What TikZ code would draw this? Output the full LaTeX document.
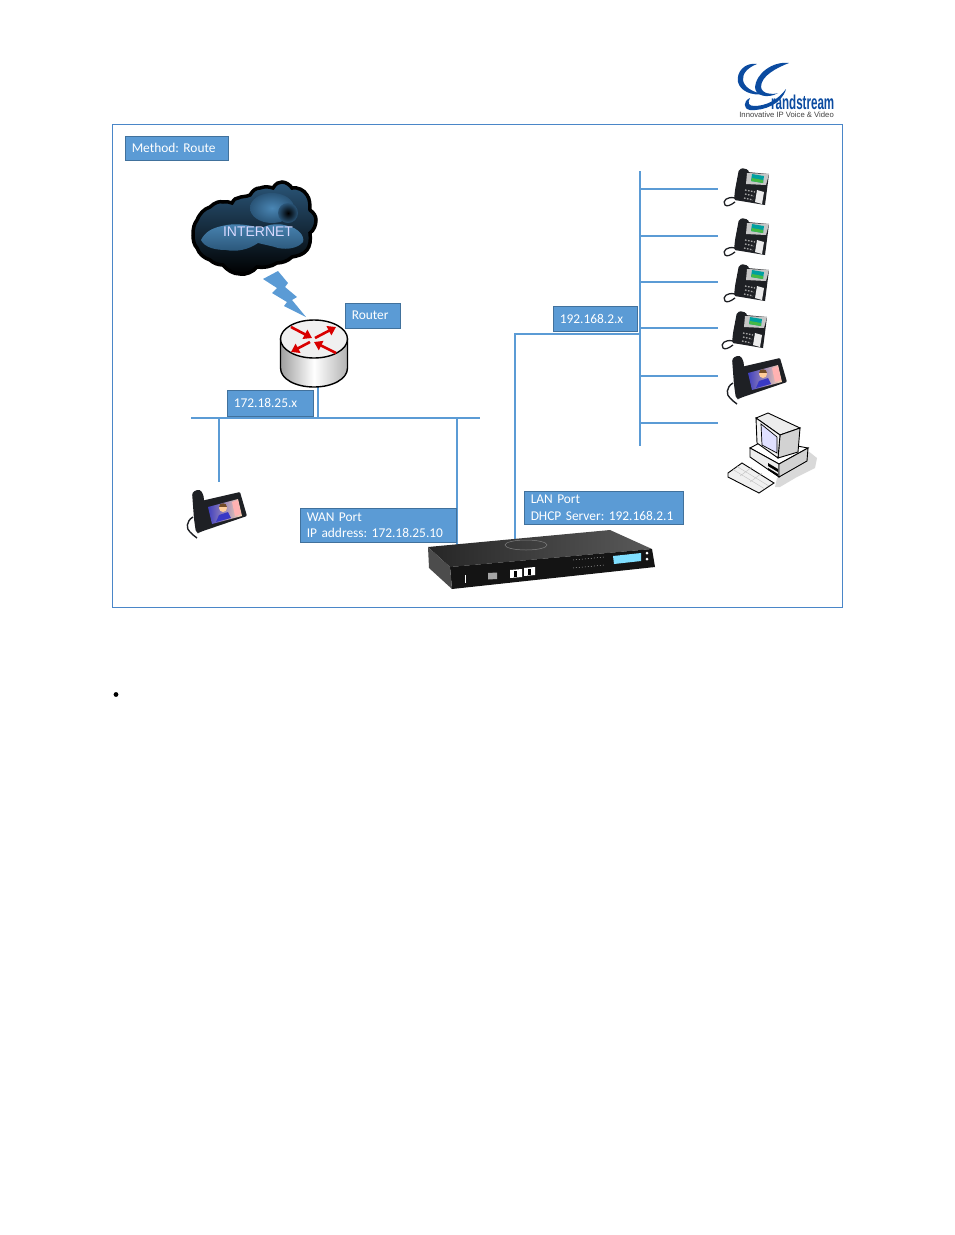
\documentclass[tikz,border=0pt]{standalone}
\usepackage{fontspec}
\setmainfont{Carlito}
\newfontfamily\arialfont{Liberation Sans}
\usetikzlibrary{arrows.meta}
\definecolor{framec}{HTML}{4A86C8}
\definecolor{boxfill}{HTML}{5B9BD5}
\definecolor{boxedge}{HTML}{41719C}
\definecolor{logoblue}{HTML}{0B4BA0}
\definecolor{phoneblack}{HTML}{1E2024}
\definecolor{cloudtop}{HTML}{2A5578}
\definecolor{cloudlight}{HTML}{4A86B4}
\definecolor{clouddark}{HTML}{12283C}
\tikzset{
  netline/.style = {draw = boxfill, line width = 2.8},
  labelbox/.style n args = {2}{draw = boxedge, fill = boxfill, text = white, font = \fontsize{13.4}{16.5}\selectfont, align = left, inner xsep = 6.5, inner ysep = 0, text width = #1 - 13, minimum height = #2},
  redarrow/.style = {draw = red!85!black, line width = 2.6, -{Triangle[length = 8, width = 10]}},
  pics/deskphone/.style = {code = {
    \draw[phoneblack, line width = 1.3] (13,31) .. controls (5,29) and (0,34) .. (3,38) .. controls (5,40) and (9,38) .. (13,35);
    \fill[phoneblack] (25,5)--(47,7)--(43,38)--(13,33)--cycle;
    \fill[phoneblack, rounded corners = 2] (17,2)--(23,1)--(28,5)--(23,17)--(21,33)--(12,33)--(13,23)--cycle;
    \fill[gray!45] (25,6)--(47,7)--(44,18)--(24,17)--cycle;
    \fill[teal!75!cyan] (30,7)--(42,9)--(41,16)--(29,14)--cycle;
    \fill[green!45!gray] (30,11)--(41,13)--(41,16)--(29,14)--cycle;
    \fill[white!85!gray] (35,23)--(42,25)--(40,37)--(33,35)--cycle;
    \draw[gray!70, line width = 1.3, dash pattern = on 1.6 off 1.4] (23,23)--(33,25);
    \draw[gray!70, line width = 1.3, dash pattern = on 1.6 off 1.4] (23,27)--(32,29);
    \draw[gray!70, line width = 1.3, dash pattern = on 1.6 off 1.4] (22,31)--(31,33);
  }},
  pics/videophone/.style = {code = {
    \draw[phoneblack, line width = 1.4] (8,28) .. controls (1,32) and (1,40) .. (5,43) .. controls (7,45) and (9,47) .. (12,49);
    \fill[phoneblack, rounded corners = 1] (16,12)--(55,3)--(62,27)--(18,42)--(13,44)--cycle;
    \fill[phoneblack, rounded corners = 3] (7,3)--(15,0)--(19,7)--(18,32)--(15,44)--(11,44)--(9,30)--cycle;
    \shade[left color = blue!50!gray, right color = white!70!orange] (23,18)--(53,10)--(57,27)--(27,35)--cycle;
    \fill[white!70!red] (47,13)--(53,11)--(56,25)--(50,27)--cycle;
    \fill[blue!55!gray] (31,33)--(34,26)--(43,23)--(46,29)--cycle;
    \fill[orange!40!white] (38,19) circle (4);
    \fill[brown!60!black] (34,18) .. controls (34,13) and (42,13) .. (42,18) -- cycle;
  }}
}
\begin{document}
\frenchspacing
\begin{tikzpicture}[x = 1pt, y = -1pt]
  \useasboundingbox (0,0) rectangle (954,1235);
  \draw[framec, line width = 1] (112.5,124.5) rectangle (842.5,607.5);

  \fill[logoblue] (757,64) .. controls (745,62) and (736,72) .. (738,82) .. controls (740,91) and (752,96) .. (763,94) .. controls (752,92) and (744,87) .. (743,80) .. controls (742,73) and (749,67) .. (757,64) -- cycle;
  \fill[logoblue] (789,63) .. controls (772,61) and (756,74) .. (755,87) .. controls (755,96) and (768,99) .. (778,93) .. controls (772,95) and (762,94) .. (761,87) .. controls (761,76) and (776,68) .. (789,63) -- cycle;
  \fill[logoblue] (750,98) .. controls (743,101) and (743,109) .. (750,110) .. controls (764,111) and (782,104) .. (786,89) .. controls (778,100) and (766,106) .. (754,106) .. controls (749,106) and (747,103) .. (750,98) -- cycle;
  \node[anchor = west, transform shape, xscale = 0.58, text = logoblue, inner sep = 0, font = \arialfont\bfseries\fontsize{20}{20}\selectfont] (logoname) at (771,102) {randstream};
  \node[anchor = east, text = black!75, inner sep = 0, font = \arialfont\fontsize{7.7}{8}\selectfont] (logotag) at (834,114.5) {Innovative IP Voice \& Video};

  \coordinate (wanleft) at (191,418);
  \coordinate (wanright) at (480,418);
  \coordinate (routerfoot) at (318,386);
  \coordinate (wanphone) at (219,482);
  \coordinate (wanport) at (457,550);
  \coordinate (lantop) at (640,171);
  \coordinate (lanbottom) at (640,446);
  \coordinate (lanjoin) at (640,334);
  \coordinate (lanport) at (515,541);
  \coordinate (tapone) at (718,189);
  \coordinate (taptwo) at (718,236);
  \coordinate (tapthree) at (718,282);
  \coordinate (tapfour) at (718,328);
  \coordinate (tapfive) at (718,376);
  \coordinate (tapsix) at (718,423);

  \draw[netline] (wanleft) -- (wanright);
  \draw[netline] (routerfoot) -- (routerfoot |- wanleft);
  \draw[netline] (wanphone |- wanleft) -- (wanphone);
  \draw[netline] (wanport |- wanleft) -- (wanport);
  \draw[netline] (lantop) -- (lanbottom);
  \draw[netline] (lanjoin) -| (lanport);
  \draw[netline] (tapone -| lantop) -- (tapone);
  \draw[netline] (taptwo -| lantop) -- (taptwo);
  \draw[netline] (tapthree -| lantop) -- (tapthree);
  \draw[netline] (tapfour -| lantop) -- (tapfour);
  \draw[netline] (tapfive -| lantop) -- (tapfive);
  \draw[netline] (tapsix -| lantop) -- (tapsix);

  \path[draw = black, line width = 3.5, top color = cloudtop, bottom color = black] (193,235) .. controls (193,228) and (194,224) .. (197,220) .. controls (200,213) and (204,209) .. (210,207) .. controls (215,202) and (220,201) .. (223,202) .. controls (226,201) and (229,202) .. (232,203) .. controls (234,199) and (236,198) .. (238,198) .. controls (242,196) and (246,197) .. (250,195) .. controls (253,190) and (256,188) .. (260,188) .. controls (265,186) and (270,187) .. (273,188) .. controls (276,183) and (279,182) .. (282,182) .. controls (286,182) and (290,185) .. (292,188) .. controls (298,187) and (304,190) .. (307,195) .. controls (310,199) and (310,205) .. (310,210) .. controls (314,213) and (316,216) .. (316,220) .. controls (316,225) and (314,230) .. (310,233) .. controls (311,240) and (310,246) .. (307,250) .. controls (303,255) and (297,256) .. (292,257) .. controls (288,261) and (282,263) .. (277,263) .. controls (271,267) and (263,268) .. (257,267) .. controls (253,272) and (246,275) .. (240,274) .. controls (233,274) and (227,270) .. (223,265) .. controls (218,265) and (213,263) .. (210,260) .. controls (204,258) and (199,254) .. (197,248) .. controls (194,245) and (193,240) .. (193,235) -- cycle;
  \shade[inner color = cloudlight, outer color = cloudtop] (272,208) ellipse (22 and 15);
  \shade[inner color = black, outer color = cloudtop] (288,213) circle (10);
  \shade[top color = cloudlight, bottom color = cloudtop] (201,240) .. controls (205,232) and (212,228) .. (222,226) .. controls (236,222) and (252,226) .. (262,228) .. controls (268,224) and (280,223) .. (288,226) .. controls (298,228) and (305,236) .. (303,242) .. controls (298,248) and (288,250) .. (278,248) .. controls (272,246) and (266,245) .. (258,243) .. controls (248,250) and (236,252) .. (226,250) .. controls (216,250) and (205,248) .. (201,240) -- cycle;
  \node[text = white!85!blue, inner sep = 0, font = \arialfont\fontsize{14}{14}\selectfont] (internet) at (258,232) {INTERNET};

  \fill[boxfill] (263,279)--(278,271)--(288,283)--(285,287)--(297,297)--(292,300)--(306,317)--(284,306)--(287,302)--(272,293)--(277,288)--cycle;

  \shade[draw = black, line width = 1.4, left color = gray!75, right color = gray!60, middle color = white] (280.5,339) -- (280.5,368) .. controls (280.5,379) and (295.5,387) .. (314,387) .. controls (332.5,387) and (347.5,379) .. (347.5,368) -- (347.5,339) -- cycle;
  \draw[black, line width = 1.4, fill = gray!12] (314,339) ellipse (33.5 and 19);
  \draw[redarrow] (291,327) -- (312,338);
  \draw[redarrow] (315,338) -- (336,327);
  \draw[redarrow] (310,342) -- (291,352);
  \draw[redarrow] (336,353) -- (314,342);

  \node[labelbox = {102.5}{24.5}] (method) at (176.5,148.2) {Method: Route};
  \node[labelbox = {54.5}{25}] (router) at (372.5,315.5) {Router};
  \node[labelbox = {85.5}{26}] (wannet) at (270,403) {172.18.25.x};
  \node[labelbox = {83.5}{25}] (lannet) at (595,318.5) {192.168.2.x};
  \node[labelbox = {155.5}{34}] (wanbox) at (378,525) {WAN Port\\IP address: 172.18.25.10};
  \node[labelbox = {158.5}{33}] (lanbox) at (603.5,507.5) {LAN Port\\DHCP Server: 192.168.2.1};

  \pic (deskone) at (722,167) {deskphone};
  \pic (desktwo) at (722,217) {deskphone};
  \pic (deskthree) at (722,263) {deskphone};
  \pic (deskfour) at (720,310) {deskphone};
  \pic (videolan) at (725,355) {videophone};
  \pic (videowan) at (185,489) {videophone};

  \fill[gray!30] (807,450)--(817,458)--(815,468)--(797,477)--(780,487)--(775,487)--(777,478)--cycle;
  \draw[black, line width = 0.9, fill = white] (750,448)--(765,440)--(808,448)--(779,464)--cycle;
  \draw[black, line width = 0.9, fill = gray!15] (750,448)--(779,464)--(779,477)--(750,457)--cycle;
  \draw[black, line width = 0.9, fill = gray!35] (779,464)--(808,448)--(807,461)--(779,477)--cycle;
  \fill[black] (768,463)--(778,469)--(778,472)--(768,466)--cycle;
  \fill[black] (768,468)--(778,474)--(778,476)--(768,470)--cycle;
  \draw[black, line width = 0.9, fill = gray!15] (756,418)--(768,413)--(800,428)--(780,435)--cycle;
  \draw[black, line width = 0.9, fill = gray!35] (780,435)--(800,428)--(798,452)--(778,458)--cycle;
  \draw[black, line width = 0.9, fill = gray!10] (756,418)--(780,435)--(778,458)--(757,443)--cycle;
  \draw[black, line width = 0.7, fill = blue!12] (761,424)--(777,437)--(777,453)--(762,445)--cycle;
  \draw[black, line width = 0.9, fill = gray!12] (728,473)--(742,463)--(774,483)--(759,493)--(728,477)--cycle;
  \draw[gray!50, line width = 0.4] (733,469.5)--(765,489);
  \draw[gray!50, line width = 0.4] (737,466.5)--(769,486);
  \draw[gray!50, line width = 0.4] (740,476)--(752,467);
  \draw[gray!50, line width = 0.4] (750,482)--(762,473);

  \shade[left color = black!85, right color = black!65] (428,547)--(610,530)--(652,549)--(450,567)--cycle;
  \fill[black!92] (450,567)--(652,549)--(655,567)--(452,589)--cycle;
  \fill[black!70] (428,547)--(450,567)--(452,589)--(429,568)--cycle;
  \draw[gray, line width = 0.5] (526,545) ellipse (21 and 5);
  \fill[blue!25!cyan!50] (613,556)--(641,553)--(641,561)--(614,564)--cycle;
  \fill[white] (647,553) circle (1.5);
  \fill[white] (647,559) circle (1.5);
  \fill[white] (464.5,575)--(466,575)--(466,583)--(464.5,583)--cycle;
  \fill[gray!70] (488,573)--(497,572.5)--(497,579)--(488,579.5)--cycle;
  \fill[white] (510,570)--(522,569)--(522,577)--(510,578)--cycle;
  \fill[white] (524,568)--(535,567)--(535,575)--(524,576)--cycle;
  \fill[black] (514,571)--(517,571)--(517,577)--(514,577)--cycle;
  \fill[black] (528,569)--(531,569)--(531,575)--(528,575)--cycle;
  \draw[gray!70, line width = 0.5, dash pattern = on 1 off 2] (573,560)--(605,557);
  \draw[gray!70, line width = 0.5, dash pattern = on 1 off 2] (573,568)--(605,565);

  \fill[black] (116,694.5) circle (2.4);
\end{tikzpicture}
\end{document}
